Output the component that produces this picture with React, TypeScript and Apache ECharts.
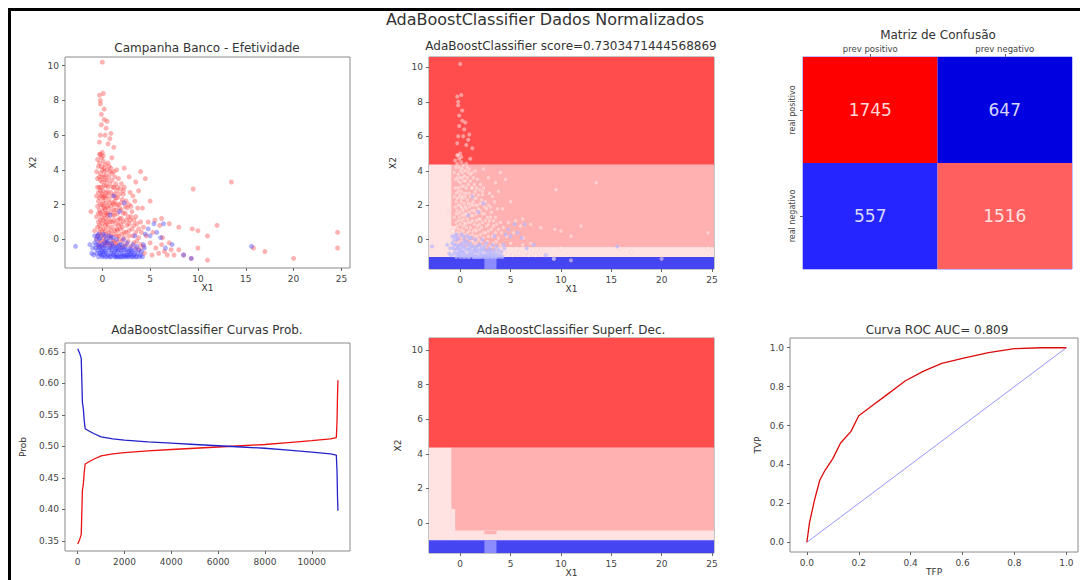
import React, { useEffect, useRef } from "react";
import * as echarts from "echarts";

// ---------- data ----------
const redPoints: number[][] = [
  [0.0, 10.2], [-0.3, 8.3], [-0.2, 8.0], [0.1, 8.4], [-0.2, 7.8], [0.2, 6.9], [-0.1, 6.6], [0.5, 6.8],
  [0.3, 6.0], [-0.2, 6.0], [0.8, 5.8], [1.2, 5.3], [0.0, 5.0], [-0.2, 4.9], [0.1, 4.8], [0.6, 5.5],
  [-0.3, 5.6], [0.4, 6.4], [0.9, 6.1], [-0.1, 7.2], [0.2, 7.5],
  [2.3, 4.1], [1.5, 4.0], [3.5, 3.3], [4.5, 3.5], [5.0, 2.2], [9.5, 2.9], [13.5, 3.3], [3.8, 2.8],
  [4.2, 1.8], [6.2, 1.2], [7.0, 0.9], [8.0, 0.7], [10.0, 0.5], [11.0, 0.2], [9.4, 0.6], [24.6, 0.4],
  [24.6, -0.5], [15.8, -0.5], [17.0, -0.7], [20.0, -1.1], [10.0, -0.5], [9.3, -1.1], [11.0, -1.2],
  [8.5, -0.9], [-1.2, 1.6], [-0.8, 0.5], [12.0, 0.8], [4.0, 3.9], [2.8, 3.6], [1.0, 4.7],
  [-0.5, 4.6], [-0.3, 4.9], [-0.1, 4.7], [0.1, 4.5], [-0.4, 4.2], [0.0, 4.0], [0.3, 4.3], [-0.2, 3.8],
  [0.2, 3.6], [-0.5, 3.5], [0.0, 3.3], [0.4, 3.1], [-0.3, 3.0], [0.1, 2.8], [-0.1, 2.5], [0.3, 2.4],
  [-0.4, 2.2], [0.0, 2.0], [0.2, 1.8], [-0.3, 1.7], [0.4, 1.5], [-0.1, 1.3], [0.1, 1.1], [-0.4, 1.0],
  [0.3, 0.8], [-0.2, 0.6], [0.0, 0.4], [0.4, 0.3], [-0.5, 0.2], [0.2, 0.1], [-0.1, -0.1], [0.3, -0.3],
  [-0.4, -0.4], [-0.2, 3.4], [0.2, 3.9], [-0.4, 2.7], [0.1, 2.2], [-0.2, 1.5], [0.3, 1.2], [-0.3, 0.8],
  [0.6, 4.4], [0.9, 4.1], [1.2, 3.9], [0.7, 3.6], [1.0, 3.4], [1.4, 3.2], [0.6, 3.0], [0.9, 2.7],
  [1.3, 2.6], [0.7, 2.3], [1.1, 2.1], [1.5, 2.0], [0.6, 1.8], [0.9, 1.6], [1.3, 1.4], [0.7, 1.2],
  [1.0, 1.0], [1.4, 0.9], [0.6, 0.7], [0.9, 0.5], [1.2, 0.3], [0.7, 0.1], [1.1, -0.1], [1.4, -0.3],
  [0.8, -0.4], [1.2, 1.7], [0.5, 2.5], [1.5, 2.8], [0.8, 3.9], [1.1, 3.0], [0.5, 1.4], [1.3, 2.2],
  [1.7, 3.5], [2.0, 3.2], [2.3, 3.0], [1.8, 2.6], [2.1, 2.3], [2.5, 2.2], [1.7, 2.0], [2.0, 1.7],
  [2.4, 1.5], [1.8, 1.2], [2.2, 1.0], [2.6, 0.8], [1.9, 0.6], [2.3, 0.4], [1.7, 0.2], [2.1, -0.1],
  [2.5, -0.3], [1.9, -0.5], [2.4, 1.9], [1.6, 1.5], [2.2, 2.8], [1.9, 0.9],
  [2.8, 2.0], [3.1, 1.6], [3.5, 1.3], [2.9, 1.1], [3.3, 0.8], [3.8, 0.6], [2.8, 0.5], [3.2, 0.2],
  [3.6, -0.1], [3.0, -0.4], [3.9, -0.6], [2.9, 2.7], [3.4, 2.2], [3.7, 1.8], [4.0, 1.0],
  [4.3, 0.7], [4.6, 0.2], [5.0, -0.2], [5.3, 0.4], [5.6, -0.5], [5.9, -0.8], [6.2, -0.3], [6.5, -0.7],
  [6.8, -0.9], [7.2, -0.6], [7.5, -0.9], [4.8, 1.0], [5.5, 1.1], [6.0, 0.8], [4.4, -0.8], [5.2, -0.9],
  [6.3, 0.1], [7.0, -0.2], [8.0, -0.6],
  [-0.6, 3.9], [-0.5, 3.0], [-0.6, 2.5], [-0.5, 1.9], [-0.6, 1.3], [-0.5, 0.7], [-0.6, 0.0], [-0.3, 4.4],
  [-0.1, 4.2], [0.2, 4.1], [0.4, 3.7], [-0.3, 3.6], [0.0, 3.6], [0.3, 3.4], [-0.1, 3.0], [0.2, 3.1],
  [0.4, 2.7], [-0.2, 2.8], [0.0, 2.6], [0.2, 2.5], [-0.3, 2.4], [0.1, 2.4], [0.4, 2.1], [-0.2, 2.0],
  [0.1, 1.9], [-0.4, 1.5], [0.0, 1.6], [0.3, 1.7], [-0.2, 1.1], [0.2, 1.4], [0.4, 1.0], [0.0, 0.9],
  [-0.3, 0.4], [0.1, 0.6], [0.3, 0.5], [-0.1, 0.2], [0.2, -0.1], [0.4, -0.2], [-0.3, -0.2], [0.0, -0.4],
  [0.5, 4.0], [0.7, 4.2], [1.0, 3.8], [1.3, 3.6], [0.5, 3.4], [0.8, 3.2], [1.2, 3.0], [0.6, 2.7],
  [1.0, 2.5], [1.4, 2.4], [0.8, 2.1], [1.2, 2.0], [0.5, 1.9], [0.9, 1.9], [1.4, 1.7], [0.6, 1.5],
  [1.1, 1.4], [0.8, 1.0], [1.2, 1.1], [0.5, 0.9], [1.0, 0.7], [1.5, 0.6], [0.7, 0.4], [1.3, 0.5],
  [0.9, 0.2], [1.5, 0.2], [0.6, -0.2], [1.0, -0.3], [1.3, -0.1],
  [1.6, 3.0], [1.9, 2.9], [2.2, 2.6], [1.6, 2.4], [2.0, 2.1], [2.6, 1.8], [1.8, 1.8], [2.2, 1.5],
  [2.7, 1.3], [1.6, 1.1], [2.0, 1.2], [2.5, 1.1], [1.7, 0.8], [2.1, 0.7], [2.8, 0.9], [1.6, 0.5],
  [2.5, 0.4], [2.0, 0.3], [1.8, 0.0], [2.3, 0.1], [2.8, 0.2], [1.6, -0.2], [2.7, -0.1], [2.2, -0.4],
  [3.0, 1.3], [3.3, 1.1], [3.6, 0.9], [3.1, 0.6], [3.5, 0.4], [4.1, 0.4], [3.3, -0.2], [3.8, 0.1],
  [4.3, -0.4], [3.5, -0.5], [4.0, -0.3], [3.0, 1.9], [3.2, 2.5],
];

const bluePoints: number[][] = [
  [-2.8, -0.4], [-1.3, -0.3], [-1.0, -0.5], [-0.8, -0.2], [-0.6, -0.8], [-0.5, 0.2], [-0.4, -1.0],
  [-0.3, -0.5], [-0.2, 0.1], [-0.1, -0.9], [0.0, -0.3], [0.1, 0.3], [0.2, -0.7], [0.3, -1.0], [0.4, 0.0],
  [0.5, -0.5], [0.6, -0.9], [0.7, 0.2], [0.8, -0.3], [0.9, -1.0], [1.0, -0.6], [1.1, 0.1], [1.2, -0.9],
  [1.3, -0.4], [1.4, -1.0], [1.5, 0.0], [1.6, -0.7], [1.7, -1.0], [1.8, -0.3], [1.9, -0.8], [2.0, -1.0],
  [2.1, -0.5], [2.2, 0.0], [2.3, -0.9], [2.4, -1.0], [2.5, -0.6], [2.6, -0.2], [2.7, -0.9], [2.8, -1.0],
  [2.9, -0.5], [3.0, -0.8], [3.1, -1.0], [3.2, -0.3], [3.3, -0.9], [3.4, -0.6], [3.5, -1.0], [3.6, -0.4],
  [3.7, -0.8], [3.9, -1.0], [4.1, -0.7], [4.3, -0.3], [4.5, 0.3], [4.8, 0.6], [5.0, 0.2], [5.4, 0.9],
  [5.7, 0.4], [6.1, 0.1], [6.4, 0.9], [6.6, -0.5], [7.3, -0.3], [8.5, -0.9], [9.3, -1.1], [15.6, -0.4],
  [1.2, 2.5], [1.8, 1.6], [2.3, 2.1], [0.8, 1.4], [3.4, 0.2], [-0.3, 0.0], [0.2, -0.2], [-0.6, -0.3],
  [0.6, -0.1], [1.0, -0.2], [1.4, -0.6], [2.0, -0.6], [2.6, -0.7], [3.0, -0.6], [0.4, -0.8], [-0.1, -0.6],
  [1.7, -0.4], [2.4, -0.4], [-0.5, -0.6], [0.0, -1.0], [0.9, -0.8], [1.5, -0.9], [-0.2, -0.8],
  [-0.9, -0.9], [-0.7, -0.5], [-0.6, 0.0], [-0.4, -0.3], [-0.3, -0.8], [-0.2, -0.4], [0.0, -0.7],
  [0.1, -0.5], [0.1, -0.9], [0.3, -0.4], [0.3, -0.7], [0.5, -0.2], [0.5, -1.0], [0.7, -0.6], [0.8, -1.0],
  [0.9, -0.5], [1.1, -0.8], [1.1, -0.4], [1.3, -0.7], [1.3, -1.0], [1.5, -0.5], [1.6, -1.0], [1.7, -0.6],
  [1.9, -1.0], [2.0, -0.3], [2.1, -0.8], [2.2, -1.0], [2.3, -0.6], [2.5, -0.9], [2.6, -1.0], [2.8, -0.7],
  [2.9, -0.9], [3.1, -0.7], [3.2, -1.0], [3.4, -0.8], [3.6, -1.0], [3.8, -0.6], [4.0, -0.9], [4.2, -1.0],
  [4.4, -0.5], [-0.8, 0.2], [-1.1, -0.8], [0.3, 0.2], [0.9, 0.1], [-0.4, 0.3],
];

// decision surface cells: [x0, x1, y0, y1, colourIndex]
const surfaceRects: number[][] = [
  [-5, 30, 4.35, 12, 0],
  [-0.9, 30, -0.45, 4.35, 1],
  [-5, -0.9, -1.0, 4.35, 2],
  [-0.9, 30, -1.0, -0.45, 2],
  [-0.9, -0.5, -0.45, 0.8, 2],
  [2.4, 3.6, -0.65, -0.45, 1],
  [-5, 30, -3, -1.0, 3],
  [2.4, 3.6, -3, -1.0, 4],
];
const surfaceColors = ["#ff4d4d", "#ffb1b1", "#ffe2e2", "#4545f2", "#8c8cff"];

const confCols = ["prev positivo", "prev negativo"];
const confRows = ["real positivo", "real negativo"];
const confValues: number[][] = [
  [0, 0, 1745],
  [1, 0, 647],
  [0, 1, 557],
  [1, 1, 1516],
];
const confColors = ["#ff0000", "#0000e0", "#2525ff", "#ff5f5f"];
const confTextColors = ["#ffd8d8", "#d8d8ff", "#d8d8ff", "#ffe0e0"];

const blueProb: number[][] = [
  [0, 0.655], [80, 0.648], [150, 0.64], [180, 0.6], [200, 0.57], [240, 0.56], [280, 0.54],
  [320, 0.528], [500, 0.524], [700, 0.52], [1000, 0.515], [1500, 0.512], [2000, 0.51], [3000, 0.507],
  [4000, 0.505], [5000, 0.503], [6000, 0.501], [7000, 0.499], [8000, 0.497], [9000, 0.494],
  [10000, 0.491], [10800, 0.488], [11050, 0.486], [11080, 0.46], [11100, 0.42], [11120, 0.398],
];
const redProb: number[][] = [
  [0, 0.345], [80, 0.352], [150, 0.36], [180, 0.4], [200, 0.43], [240, 0.44], [280, 0.46],
  [320, 0.472], [500, 0.476], [700, 0.48], [1000, 0.485], [1500, 0.488], [2000, 0.49], [3000, 0.493],
  [4000, 0.495], [5000, 0.497], [6000, 0.499], [7000, 0.501], [8000, 0.503], [9000, 0.506],
  [10000, 0.509], [10800, 0.512], [11050, 0.514], [11080, 0.54], [11100, 0.58], [11120, 0.605],
];

const rocFpr = [0, 0.01, 0.03, 0.05, 0.07, 0.1, 0.13, 0.17, 0.2, 0.25, 0.3, 0.38, 0.45, 0.52, 0.6, 0.7, 0.8, 0.9, 1.0];
const rocTpr = [0, 0.1, 0.22, 0.32, 0.37, 0.43, 0.51, 0.57, 0.65, 0.7, 0.75, 0.83, 0.88, 0.92, 0.945, 0.975, 0.995, 1.0, 1.0];
const diagonal: number[][] = [[0, 0], [1, 1]];

const xTicks12 = [0, 5, 10, 15, 20, 25];
const yTicks12 = [0, 2, 4, 6, 8, 10];
const probXTicks = [0, 2000, 4000, 6000, 8000, 10000];
const probYTicks = [0.35, 0.4, 0.45, 0.5, 0.55, 0.6, 0.65];
const rocTicks = [0, 0.2, 0.4, 0.6, 0.8, 1.0];

// ---------- helpers ----------
const FONT = "DejaVu Sans";
const TICK_COLOR = "#444";
const BORDER = "#8a8a8a";

function valueAxis(gridIndex: number, min: number, max: number, ticks: number[], extra: any = {}, fmt?: (v: number) => string) {
  return {
    type: "value",
    gridIndex,
    min,
    max,
    splitLine: { show: false },
    axisLine: { show: false, onZero: false },
    axisTick: { show: true, customValues: ticks, length: 3, lineStyle: { color: "#666" } },
    axisLabel: {
      customValues: ticks,
      fontSize: 9,
      color: TICK_COLOR,
      fontFamily: FONT,
      margin: 6,
      formatter: fmt ? (v: number) => fmt(v) : (v: number) => String(v),
    },
    nameTextStyle: { fontSize: 9, color: "#333", fontFamily: FONT },
    ...extra,
  };
}

function surfaceRender(params: any, api: any) {
  const p0 = api.coord([api.value(0), api.value(3)]);
  const p1 = api.coord([api.value(1), api.value(2)]);
  const cs = params.coordSys;
  const rect = echarts.graphic.clipRectByRect(
    { x: p0[0], y: p0[1], width: p1[0] - p0[0], height: p1[1] - p0[1] },
    { x: cs.x, y: cs.y, width: cs.width, height: cs.height }
  );
  if (!rect) return null;
  return { type: "rect", shape: rect, style: { fill: surfaceColors[api.value(4)] } };
}

function confRender(params: any, api: any) {
  const c = api.coord([api.value(0), api.value(1)]);
  const s = api.size([1, 1]);
  const i = params.dataIndex;
  return {
    type: "group",
    children: [
      {
        type: "rect",
        shape: { x: c[0] - s[0] / 2, y: c[1] - s[1] / 2, width: s[0], height: s[1] },
        style: { fill: confColors[i] },
      },
      {
        type: "text",
        x: c[0],
        y: c[1],
        style: {
          text: String(api.value(2)),
          fontSize: 17,
          fontFamily: FONT,
          fill: confTextColors[i],
          textAlign: "center",
          textVerticalAlign: "middle",
        },
      },
    ],
  };
}

function titleText(text: string, x: number, y: number, size = 12) {
  return {
    type: "text",
    x,
    y,
    style: { text, fontSize: size, fontFamily: FONT, fill: "#333", textAlign: "center", textVerticalAlign: "middle" },
  };
}

export default function App() {
  const ref = useRef<HTMLDivElement>(null);
  useEffect(() => {
    if (!ref.current) return;
    const chart = echarts.init(ref.current, undefined, { renderer: "svg" });
    const gridBase = { show: true, borderColor: BORDER, borderWidth: 1, backgroundColor: "transparent", containLabel: false };
    const option: any = {
      animation: false,
      textStyle: { fontFamily: FONT },
      grid: [
        { ...gridBase, left: 65, top: 57, width: 285, height: 211 },
        { ...gridBase, left: 429, top: 57, width: 285, height: 212 },
        { ...gridBase, left: 803, top: 57, width: 269, height: 212, borderColor: "#8080ff" },
        { ...gridBase, left: 65, top: 343, width: 285, height: 208 },
        { ...gridBase, left: 429, top: 338, width: 285, height: 215 },
        { ...gridBase, left: 790, top: 338, width: 288, height: 214 },
      ],
      xAxis: [
        valueAxis(0, -3.9, 25.9, xTicks12, { name: "X1", nameLocation: "middle", nameGap: 13 }),
        valueAxis(1, -3.1, 25.2, xTicks12, { name: "X1", nameLocation: "middle", nameGap: 13 }),
        {
          type: "category",
          gridIndex: 2,
          position: "top",
          data: confCols,
          splitLine: { show: false },
          axisLine: { show: false },
          axisTick: { show: true, alignWithLabel: true, length: 3, lineStyle: { color: "#666" } },
          axisLabel: { fontSize: 8.5, color: TICK_COLOR, fontFamily: FONT, margin: 4 },
        },
        valueAxis(3, -543, 11634, probXTicks),
        valueAxis(4, -3.1, 25.2, xTicks12, { name: "X1", nameLocation: "middle", nameGap: 15 }),
        valueAxis(5, -0.065, 1.045, rocTicks, { name: "TFP", nameLocation: "middle", nameGap: 15 }, (v) => v.toFixed(1)),
      ],
      yAxis: [
        valueAxis(0, -1.65, 10.5, yTicks12, { name: "X2", nameLocation: "middle", nameGap: 28 }),
        valueAxis(1, -1.7, 10.6, yTicks12, { name: "X2", nameLocation: "middle", nameGap: 32 }),
        {
          type: "category",
          gridIndex: 2,
          inverse: true,
          data: confRows,
          splitLine: { show: false },
          axisLine: { show: false },
          axisTick: { show: true, alignWithLabel: true, length: 3, lineStyle: { color: "#666" } },
          axisLabel: { fontSize: 8, color: TICK_COLOR, fontFamily: FONT, rotate: 90, margin: 7 },
        },
        valueAxis(3, 0.334, 0.664, probYTicks, { name: "Prob", nameLocation: "middle", nameGap: 38 }, (v) => v.toFixed(2)),
        valueAxis(4, -1.74, 10.7, yTicks12, { name: "X2", nameLocation: "middle", nameGap: 27 }),
        valueAxis(5, -0.05, 1.05, rocTicks, { name: "TVP", nameLocation: "middle", nameGap: 28 }, (v) => v.toFixed(1)),
      ],
      series: [
        {
          type: "scatter", xAxisIndex: 0, yAxisIndex: 0, data: redPoints, symbolSize: 5,
          itemStyle: { color: "#ff4040", opacity: 0.4 }, silent: true,
        },
        {
          type: "scatter", xAxisIndex: 0, yAxisIndex: 0, data: bluePoints, symbolSize: 5,
          itemStyle: { color: "#3a3aff", opacity: 0.4 }, silent: true,
        },
        {
          type: "custom", xAxisIndex: 1, yAxisIndex: 1, data: surfaceRects, renderItem: surfaceRender,
          encode: { x: [0, 1], y: [2, 3] }, silent: true, z: 1,
        },
        {
          type: "scatter", xAxisIndex: 1, yAxisIndex: 1, data: redPoints, symbolSize: 4, z: 3,
          itemStyle: { color: "#fff0f0", opacity: 0.5, borderColor: "#ff8080", borderWidth: 0.3 }, silent: true,
        },
        {
          type: "scatter", xAxisIndex: 1, yAxisIndex: 1, data: bluePoints, symbolSize: 4, z: 3,
          itemStyle: { color: "#b8b8ff", opacity: 0.7 }, silent: true,
        },
        {
          type: "custom", xAxisIndex: 2, yAxisIndex: 2, data: confValues, renderItem: confRender,
          encode: { x: 0, y: 1 }, silent: true,
        },
        {
          type: "line", xAxisIndex: 3, yAxisIndex: 3, data: redProb, showSymbol: false,
          lineStyle: { color: "#ee1111", width: 1.3 }, silent: true,
        },
        {
          type: "line", xAxisIndex: 3, yAxisIndex: 3, data: blueProb, showSymbol: false,
          lineStyle: { color: "#2222cc", width: 1.3 }, silent: true,
        },
        {
          type: "custom", xAxisIndex: 4, yAxisIndex: 4, data: surfaceRects, renderItem: surfaceRender,
          encode: { x: [0, 1], y: [2, 3] }, silent: true,
        },
        {
          type: "line", xAxisIndex: 5, yAxisIndex: 5, data: diagonal, showSymbol: false,
          lineStyle: { color: "#7b7bff", width: 0.8 }, silent: true,
        },
        {
          type: "line", xAxisIndex: 5, yAxisIndex: 5, data: rocFpr.map((f, i) => [f, rocTpr[i]]), showSymbol: false,
          lineStyle: { color: "#dd0a0a", width: 1.3 }, silent: true,
        },
      ],
      graphic: [
        { type: "rect", shape: { x: 8, y: 8, width: 1072, height: 3 }, style: { fill: "#000" } },
        { type: "rect", shape: { x: 8, y: 8, width: 3, height: 572 }, style: { fill: "#000" } },
        titleText("AdaBoostClassifier Dados Normalizados", 545, 19, 16),
        titleText("Campanha Banco - Efetividade", 207, 48),
        titleText("AdaBoostClassifier score=0.7303471444568869", 571, 46),
        titleText("Matriz de Confusão", 938, 35),
        titleText("AdaBoostClassifier Curvas Prob.", 207, 330),
        titleText("AdaBoostClassifier Superf. Dec.", 571, 330),
        titleText("Curva ROC AUC= 0.809", 937, 330),
      ],
    };
    chart.setOption(option);
    return () => chart.dispose();
  }, []);
  return <div ref={ref} style={{ position: "absolute", left: 0, top: 0, width: 1080, height: 580 }} />;
}
